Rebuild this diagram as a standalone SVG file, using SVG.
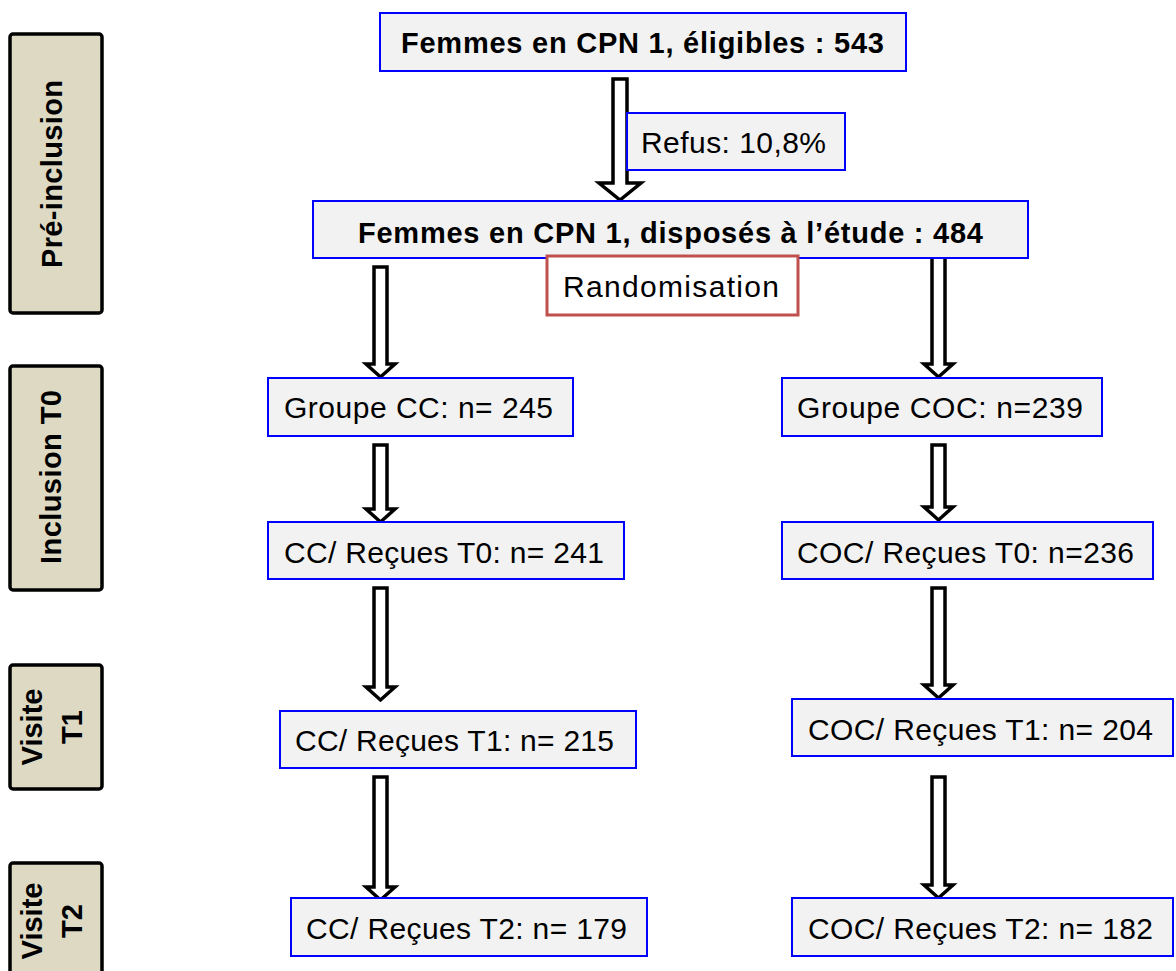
<svg xmlns="http://www.w3.org/2000/svg" width="1176" height="971" viewBox="0 0 1176 971">
<style>
.box{fill:#F2F2F2;stroke:#0000FF;stroke-width:2}
.rand{fill:#FFFFFF;stroke:#C0504D;stroke-width:3}
.side{fill:#DDD9C3;stroke:#000000;stroke-width:3.5}
.arrow{fill:#FFFFFF;stroke:#000000;stroke-width:3.5;stroke-linejoin:miter}
text{font-family:"Liberation Sans",Arial,sans-serif;fill:#000000}
.t{font-size:30px}
.b{font-size:29px;font-weight:bold}
</style>
<rect width="1176" height="971" fill="#FFFFFF"/>

<g id="side-preinclusion">
<rect class="side" x="10" y="34" width="92" height="279" rx="3"/>
<text class="b" transform="translate(62,174) rotate(-90)" text-anchor="middle" textLength="188">Pré-inclusion</text>
</g>
<g id="side-inclusion">
<rect class="side" x="10" y="366" width="92" height="224" rx="3"/>
<text class="b" transform="translate(61,477) rotate(-90)" text-anchor="middle" textLength="174">Inclusion T0</text>
</g>
<g id="side-t1">
<rect class="side" x="10" y="665" width="92" height="124" rx="3"/>
<text class="b" transform="translate(42,727) rotate(-90)" text-anchor="middle">Visite</text>
<text class="b" transform="translate(82,727) rotate(-90)" text-anchor="middle">T1</text>
</g>
<g id="side-t2">
<rect class="side" x="10" y="863" width="92" height="124" rx="3"/>
<text class="b" transform="translate(42,921) rotate(-90)" text-anchor="middle">Visite</text>
<text class="b" transform="translate(82,921) rotate(-90)" text-anchor="middle">T2</text>
</g>

<g id="connectors">
<path class="arrow" d="M613,79 H627 V183 H641 L620,200 L599,183 H613 Z"/>
<path class="arrow" d="M374,267 H387 V364 H395 L380.5,377 L366,364 H374 Z"/>
<path class="arrow" d="M932,256 H945 V364 H953 L938.5,377 L924,364 H932 Z"/>
<path class="arrow" d="M374,445 H387 V509 H395 L380.5,522 L366,509 H374 Z"/>
<path class="arrow" d="M932,445 H945 V507 H953 L938.5,520 L924,507 H932 Z"/>
<path class="arrow" d="M374,588 H387 V687 H395 L380.5,700 L366,687 H374 Z"/>
<path class="arrow" d="M932,588 H945 V685 H953 L938.5,698 L924,685 H932 Z"/>
<path class="arrow" d="M374,777 H387 V887 H395 L380.5,900 L366,887 H374 Z"/>
<path class="arrow" d="M932,777 H945 V885 H953 L938.5,898 L924,885 H932 Z"/>
</g>

<g id="n-eligibles">
<rect class="box" x="380" y="13" width="526" height="58"/>
<text class="b" x="401" y="53" textLength="483">Femmes en CPN 1, éligibles : 543</text>
</g>
<g id="n-refus">
<rect class="box" x="627" y="113" width="218" height="57"/>
<text class="t" x="641" y="153" textLength="185">Refus: 10,8%</text>
</g>
<g id="n-disposes">
<rect class="box" x="313" y="201" width="715" height="57"/>
<text class="b" x="358" y="243" textLength="625">Femmes en CPN 1, disposés à l’étude : 484</text>
</g>
<g id="n-randomisation">
<rect class="rand" x="547" y="256" width="251" height="59"/>
<text class="t" x="563" y="297" textLength="216">Randomisation</text>
</g>
<g id="n-groupe-cc">
<rect class="box" x="268" y="378" width="305" height="58"/>
<text class="t" x="284" y="418" textLength="269">Groupe CC: n= 245</text>
</g>
<g id="n-groupe-coc">
<rect class="box" x="782" y="378" width="320" height="58"/>
<text class="t" x="797" y="418" textLength="286">Groupe COC: n=239</text>
</g>
<g id="n-cc-t0">
<rect class="box" x="268" y="522" width="356" height="57"/>
<text class="t" x="284" y="563" textLength="320">CC/ Reçues T0: n= 241</text>
</g>
<g id="n-coc-t0">
<rect class="box" x="782" y="522" width="371" height="57"/>
<text class="t" x="797" y="563" textLength="337">COC/ Reçues T0: n=236</text>
</g>
<g id="n-cc-t1">
<rect class="box" x="280" y="711" width="356" height="57"/>
<text class="t" x="295" y="751" textLength="319">CC/ Reçues T1: n= 215</text>
</g>
<g id="n-coc-t1">
<rect class="box" x="792" y="699" width="381" height="57"/>
<text class="t" x="808" y="740" textLength="345">COC/ Reçues T1: n= 204</text>
</g>
<g id="n-cc-t2">
<rect class="box" x="291" y="898" width="356" height="58"/>
<text class="t" x="306" y="939" textLength="321">CC/ Reçues T2: n= 179</text>
</g>
<g id="n-coc-t2">
<rect class="box" x="792" y="898" width="381" height="58"/>
<text class="t" x="808" y="939" textLength="345">COC/ Reçues T2: n= 182</text>
</g>
</svg>
